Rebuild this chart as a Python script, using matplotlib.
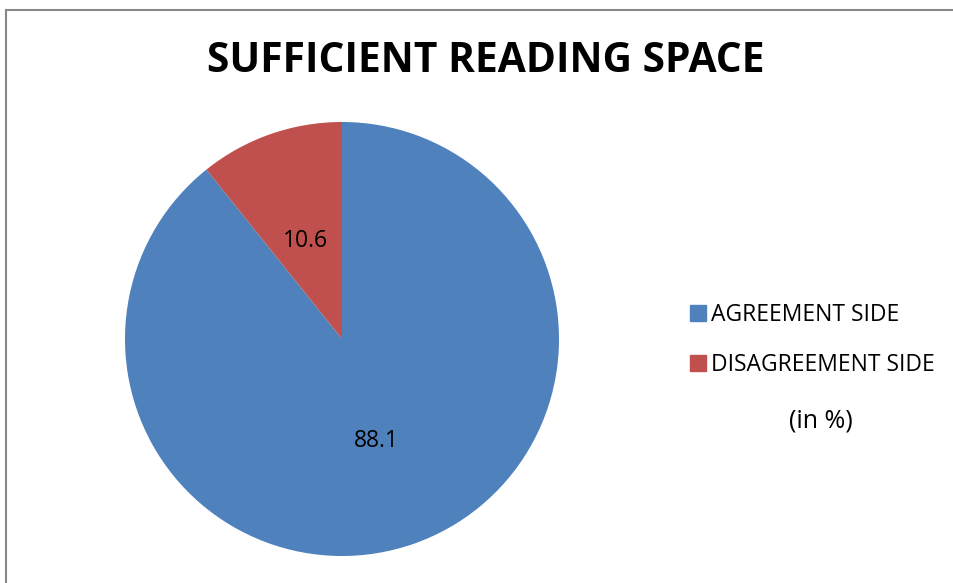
import matplotlib.pyplot as plt
from matplotlib.patches import Rectangle
from matplotlib.lines import Line2D

labels = ["AGREEMENT SIDE", "DISAGREEMENT SIDE"]
values = [88.1, 10.6]
colors = ["#4F81BD", "#C0504D"]

plt.rcParams['font.family'] = ['Open Sans', 'DejaVu Sans']

fig = plt.figure(figsize=(9.54, 5.83), dpi=100)

# chart frame (only top and left visible in the reference)
fig.patches.append(Rectangle((6 / 954, -0.1), 1.2, (583 - 10) / 583 + 0.1,
                             transform=fig.transFigure, fill=False,
                             edgecolor="#888888", linewidth=1.5))

ax = fig.add_axes([125 / 954, 27 / 583, 434 / 954, 434 / 583])
wedges, _ = ax.pie(values, colors=colors, startangle=90, counterclock=False,
                   wedgeprops=dict(linewidth=0))
ax.set_xlim(-1, 1)
ax.set_ylim(-1, 1)
ax.set_aspect("equal")

# value labels inside slices
ax.text(0.16, -0.47, f"{values[0]}", ha="center", va="center", fontsize=16.5)
ax.text(-0.17, 0.45, f"{values[1]}", ha="center", va="center", fontsize=16.5)

fig.text(486 / 954, 1 - 62 / 583, "SUFFICIENT READING SPACE", ha="center",
         va="center", fontsize=29.3, fontweight="bold")

handles = [Line2D([], [], marker="s", linestyle="", markersize=11,
                  markerfacecolor=c, markeredgecolor=c) for c in colors]
fig.legend(handles, labels, loc="center left",
           bbox_to_anchor=(681 / 954, 1 - 340 / 583), frameon=False,
           fontsize=16.5, handlelength=0.7, handletextpad=0.2,
           labelspacing=1.1, borderaxespad=0)

fig.text(821 / 954, 1 - 421 / 583, "(in %)", ha="center", va="center",
         fontsize=18)

fig.savefig("out.png", dpi=100)
